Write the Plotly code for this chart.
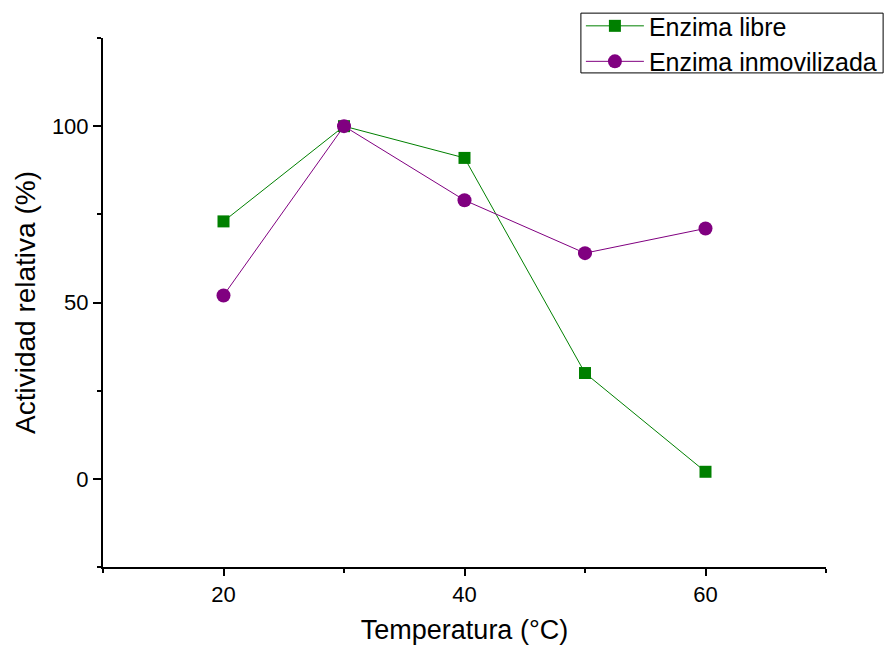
import plotly.graph_objects as go

temperatura = [20, 30, 40, 50, 60]
enzima_libre = [73, 100, 91, 30, 2]
enzima_inmovilizada = [52, 100, 79, 64, 71]
x_ticks = [20, 40, 60]
y_ticks = [0, 50, 100]

FONT = "Liberation Sans, Arial, sans-serif"

fig = go.Figure()
fig.add_trace(go.Scatter(
    x=temperatura, y=enzima_libre, mode="lines+markers", name="Enzima libre",
    line=dict(color="#008000", width=1),
    marker=dict(symbol="square", size=12, color="#008000"),
))
fig.add_trace(go.Scatter(
    x=temperatura, y=enzima_inmovilizada, mode="lines+markers", name="Enzima inmovilizada",
    line=dict(color="#800080", width=1),
    marker=dict(symbol="circle", size=14, color="#800080"),
))

fig.update_layout(
    width=885, height=645,
    margin=dict(l=103, r=59, t=38, b=78, autoexpand=False),
    paper_bgcolor="white", plot_bgcolor="white",
    font=dict(family=FONT, color="black"),
    showlegend=True,
    legend=dict(
        x=0.661, y=1.066, xanchor="left", yanchor="top",
        borderwidth=0, bgcolor="rgba(0,0,0,0)",
        font=dict(size=25, family=FONT, color="black"),
        itemwidth=58, tracegroupgap=0,
    ),
    shapes=[dict(
        type="rect", xref="paper", yref="paper",
        x0=0.661, x1=1.079, y0=0.934, y1=1.047,
        line=dict(color="black", width=1), fillcolor="rgba(0,0,0,0)", layer="above",
    )],
    xaxis=dict(
        range=[10, 70], tickvals=x_ticks, ticks="outside", ticklen=7, tickwidth=2,
        tickcolor="black", showline=True, linecolor="black", linewidth=2,
        showgrid=False, zeroline=False,
        tickfont=dict(size=22, family=FONT, color="black"),
        title=dict(text="Temperatura (°C)", font=dict(size=27, family=FONT, color="black"), standoff=16),
        minor=dict(tickvals=[10, 30, 50, 70], ticks="outside", ticklen=4, tickwidth=2, tickcolor="black"),
    ),
    yaxis=dict(
        range=[-25, 125], tickvals=y_ticks, ticks="outside", ticklen=8, tickwidth=2,
        tickcolor="black", showline=True, linecolor="black", linewidth=2,
        showgrid=False, zeroline=False,
        tickfont=dict(size=22, family=FONT, color="black"),
        title=dict(text="Actividad relativa (%)", font=dict(size=28, family=FONT, color="black"), standoff=8),
        minor=dict(tickvals=[-25, 25, 75, 125], ticks="outside", ticklen=4, tickwidth=2, tickcolor="black"),
    ),
)

fig.write_html("out.html")
